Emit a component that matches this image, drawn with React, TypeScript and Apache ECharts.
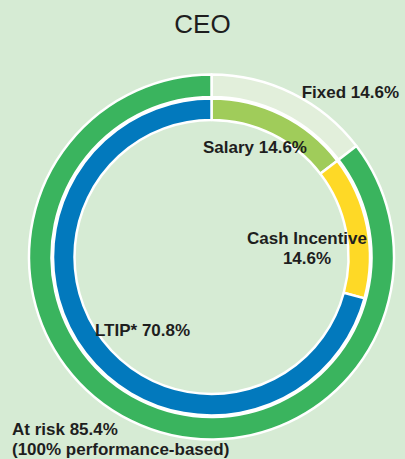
import React, { useEffect, useRef } from "react";
import * as echarts from "echarts";

const title = "CEO";
const outerNames = ["Fixed", "At risk"];
const outerValues = [14.6, 85.4];
const outerColors = ["#e2efdb", "#3ab45e"];
const innerNames = ["Salary", "Cash Incentive", "LTIP*"];
const innerValues = [14.6, 14.6, 70.8];
const innerColors = ["#a0cc5a", "#fed926", "#0279bd"];
const atRiskNote = "(100% performance-based)";

const FONT = "'Liberation Sans', Arial, Helvetica, sans-serif";
const TEXT = "#1e1e1e";

export default function App() {
  const ref = useRef<HTMLDivElement>(null);
  useEffect(() => {
    if (!ref.current) return;
    const chart = echarts.init(ref.current, undefined, { renderer: "svg" });
    const lbl = (x: number, y: number, text: string, align: string) => ({
      type: "text",
      x,
      y,
      z: 100,
      zlevel: 0,
      silent: true,
      style: {
        text,
        fill: TEXT,
        font: `bold 17px ${FONT}`,
        textAlign: align,
        textVerticalAlign: "middle",
        lineHeight: 20,
      },
    });
    chart.setOption({
      animation: false,
      backgroundColor: "#d6ebd4",
      title: {
        text: title,
        left: "center",
        top: 6,
        textStyle: { fontFamily: FONT, fontSize: 26, fontWeight: "normal", color: TEXT },
      },
      series: [
        {
          type: "pie",
          center: [211.5, 257],
          radius: [160, 182.5],
          startAngle: 90,
          clockwise: true,
          silent: true,
          z: 1,
          label: { show: false },
          labelLine: { show: false },
          itemStyle: { borderColor: "#ffffff", borderWidth: 2.5 },
          data: outerNames.map((n, i) => ({
            name: n,
            value: outerValues[i],
            itemStyle: { color: outerColors[i] },
          })),
        },
        {
          type: "pie",
          center: [211.5, 257],
          radius: [137, 158.5],
          startAngle: 90,
          clockwise: true,
          silent: true,
          z: 1,
          label: { show: false },
          labelLine: { show: false },
          itemStyle: { borderColor: "#ffffff", borderWidth: 2.5 },
          data: innerNames.map((n, i) => ({
            name: n,
            value: innerValues[i],
            itemStyle: { color: innerColors[i] },
          })),
        },
      ],
      graphic: {
        elements: [
          lbl(399, 92, `${outerNames[0]} ${outerValues[0]}%`, "right"),
          lbl(203, 147, `${innerNames[0]} ${innerValues[0]}%`, "left"),
          lbl(307, 248, `${innerNames[1]}\n${innerValues[1]}%`, "center"),
          lbl(95, 330, `${innerNames[2]} ${innerValues[2]}%`, "left"),
          lbl(12, 439, `${outerNames[1]} ${outerValues[1]}%\n${atRiskNote}`, "left"),
        ],
      },
    });
    return () => chart.dispose();
  }, []);
  return (
    <div
      ref={ref}
      style={{ position: "absolute", left: 0, top: 0, width: 405, height: 459 }}
    />
  );
}
